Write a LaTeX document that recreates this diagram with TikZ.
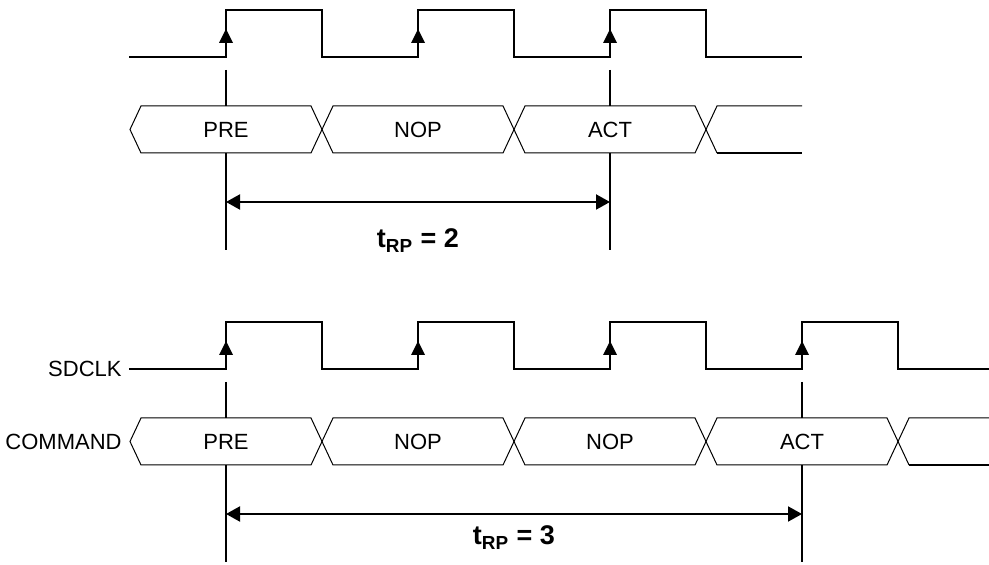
\documentclass[tikz,border=0pt]{standalone}
\usepackage{fontspec}
\setmainfont{Liberation Sans}
\usetikzlibrary{arrows.meta}
\tikzset{
  clk/.style={line width=1pt},
  bus/.style={line width=0.5pt},
  lbl/.style={font=\fontsize{11}{13}\selectfont,inner sep=0pt},
  trp/.style={font=\fontsize{13.5}{16}\selectfont\bfseries,anchor=base},
  tspan/.style={line width=1pt,{Triangle[length=7pt,width=7.5pt]}-{Triangle[length=7pt,width=7.5pt]}},
}

\begin{document}
\begin{tikzpicture}[x=0.5pt,y=-0.5pt]
\useasboundingbox (0,0) rectangle (989,565);
% tRP = 2
\draw[clk] (129,57) \foreach \x in {226,418,610}{ -- (\x,57) -- (\x,10) -- (\x+96,10) -- (\x+96,57)} -- (802,57);
\foreach \x in {226,418,610} \fill (\x-7,43) -- (\x,29) -- (\x+7,43) -- cycle;
\foreach \a/\b in {130/322,322/514,514/706}
  \draw[bus] (\a,129.5) -- (\a+11,106) -- (\b-11,106) -- (\b,129.5) -- (\b-11,153) -- (\a+11,153) -- cycle;
\draw[bus] (802,106) -- (717,106) -- (706,129.5) -- (717,153);
\draw[clk] (717,153) -- (802,153);
\node[lbl] (pre1) at (226,129.5) {PRE};
\node[lbl] (nop1) at (418,129.5) {NOP};
\node[lbl] (act1) at (610,129.5) {ACT};
\foreach \x in {226,610} \draw[clk] (\x,70) -- (\x,106) (\x,153) -- (\x,250);
\coordinate (s1) at (226,202); \coordinate (e1) at (610,202);
\draw[tspan] (s1) -- (e1);
\node[trp] (trp1) at (418,248) {t\textsubscript{RP} = 2};
% tRP = 3
\node[lbl,anchor=east] (sdclk) at (122,369) {SDCLK};
\node[lbl,anchor=east] (cmd) at (122,441.5) {COMMAND};
\draw[clk] (129,369) \foreach \x in {226,418,610,802}{ -- (\x,369) -- (\x,322) -- (\x+96,322) -- (\x+96,369)} -- (989,369);
\foreach \x in {226,418,610,802} \fill (\x-7,355) -- (\x,341) -- (\x+7,355) -- cycle;
\foreach \a/\b in {130/322,322/514,514/706,706/898}
  \draw[bus] (\a,441.5) -- (\a+11,418) -- (\b-11,418) -- (\b,441.5) -- (\b-11,465) -- (\a+11,465) -- cycle;
\draw[bus] (989,418) -- (909,418) -- (898,441.5) -- (909,465);
\draw[clk] (909,465) -- (989,465);
\node[lbl] (pre2) at (226,441.5) {PRE};
\node[lbl] (nop2) at (418,441.5) {NOP};
\node[lbl] (nop3) at (610,441.5) {NOP};
\node[lbl] (act2) at (802,441.5) {ACT};
\foreach \x in {226,802} \draw[clk] (\x,382) -- (\x,418) (\x,465) -- (\x,562);
\coordinate (s2) at (226,514); \coordinate (e2) at (802,514);
\draw[tspan] (s2) -- (e2);
\node[trp] (trp2) at (514,545) {t\textsubscript{RP} = 3};
\end{tikzpicture}
\end{document}
